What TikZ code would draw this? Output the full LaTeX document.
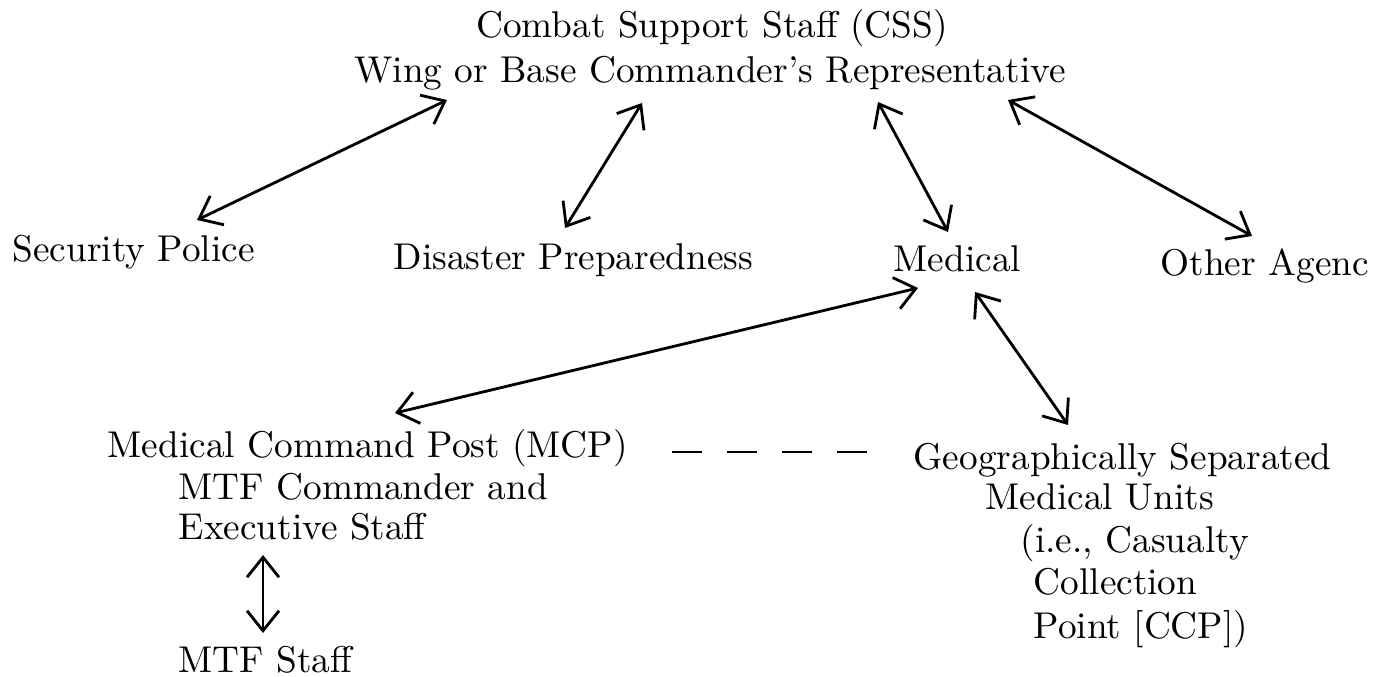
\documentclass[tikz,border=0pt]{standalone}
\usetikzlibrary{arrows.meta,calc}
\begin{document}
\begin{tikzpicture}[x=0.01cm,y=-0.01cm,
    lbl/.style={anchor=base west,inner sep=0pt,font=\fontsize{10.6}{13}\selectfont},
    link/.style={{Straight Barb[length=2mm,width=3.2mm]}-{Straight Barb[length=2mm,width=3.2mm]},line width=0.8pt}]
  \useasboundingbox (0,0) rectangle (1395,677);
  % top
  \node [lbl,anchor=base] (css) at (712,38) {Combat Support Staff (CSS)};
  \node [lbl,anchor=base] (wing) at (710,83) {Wing or Base Commander's Representative};
  % second row
  \node [lbl] (sp) at (12,262) {Security Police};
  \node [lbl] (dp) at (393,270) {Disaster Preparedness};
  \node [lbl] (med) at (893,272) {Medical};
  \node [lbl] (oth) at (1160,276) {Other Agenc};
  % medical command post
  \node [lbl] (mcp) at (107,458) {Medical Command Post (MCP)};
  \node [lbl] (mtfa) at (178,500) {MTF Commander and};
  \node [lbl] (mtfb) at (178,540) {Executive Staff};
  \node [lbl] (staff) at (178,672) {MTF Staff};
  % separated units
  \node [lbl] (geoa) at (913,470) {Geographically Separated};
  \node [lbl] (geob) at (985,510) {Medical Units};
  \node [lbl] (geoc) at (1020,553) {(i.e., Casualty};
  \node [lbl] (geod) at (1033,595) {Collection};
  \node [lbl] (geoe) at (1033,638) {Point [CCP])};
  % links
  \draw [link] ($(sp.base west)+(185,-42)$) -- ($(wing.base)+(-263,17)$);
  \draw [link] ($(dp.base west)+(172,-42)$) -- ($(wing.base)+(-68,20)$);
  \draw [link] ($(wing.base)+(168,19)$) -- ($(med.base west)+(55,-40)$);
  \draw [link] ($(wing.base)+(298,17)$) -- ($(oth.base west)+(92,-40)$);
  \draw [link] ($(med.base west)+(25,16)$) -- ($(mcp.base west)+(288,-45)$);
  \draw [link] ($(med.base west)+(82,20)$) -- ($(geoa.base west)+(155,-45)$);
  \draw [link] ($(mtfb.base west)+(85,15)$) -- ($(staff.base west)+(85,-39)$);
  \draw [line width=0.8pt,dash pattern=on 0.3cm off 0.25cm] ($(mcp.base west)+(565,-6)$) -- ($(geoa.base west)+(-45,-18)$);
\end{tikzpicture}
\end{document}
